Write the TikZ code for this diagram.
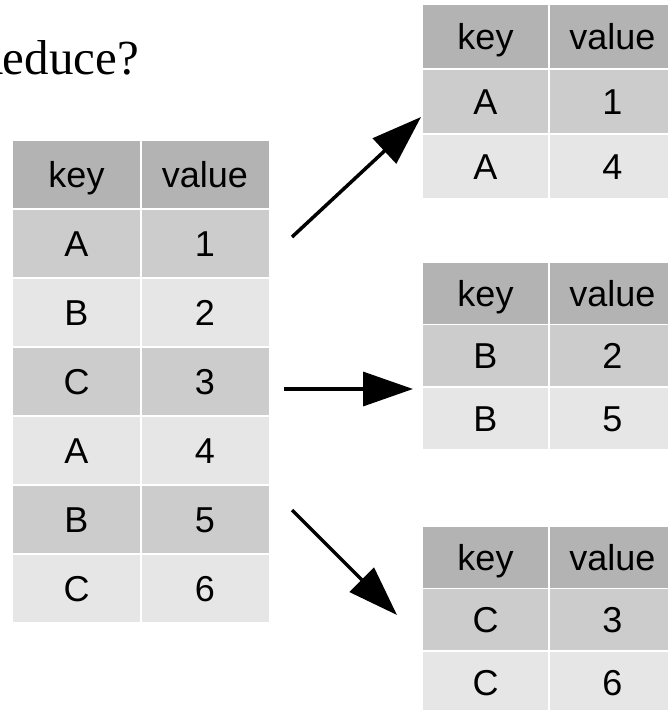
\documentclass[tikz,border=0pt]{standalone}
\usepackage{fontspec}
\setmainfont{Liberation Serif}
\newfontfamily\cellfont{Liberation Sans}
\usetikzlibrary{arrows.meta}
\definecolor{hdr}{HTML}{B3B3B3}
\definecolor{rowdark}{HTML}{CCCCCC}
\definecolor{rowlight}{HTML}{E6E6E6}
\tikzset{
  cellbase/.style={draw=white, line width=1.5pt, inner sep=0pt, anchor=center,
    font=\cellfont\fontsize{36}{40}\selectfont, text height=26pt, text depth=0pt},
  hcell/.style={cellbase, fill=hdr},
  dcell/.style={cellbase, fill=rowdark},
  lcell/.style={cellbase, fill=rowlight},
  bigcell/.style={minimum width=128.5pt, minimum height=69pt},
  smallcell/.style={minimum width=127pt, minimum height=65pt},
  midcell/.style={minimum width=127pt, minimum height=62.5pt},
  bigarrow/.style={line width=3.5pt, -{Triangle[length=50pt,width=34pt]}},
}
\begin{document}
\begin{tikzpicture}[x=1pt,y=-1pt]
\useasboundingbox (0,0) rectangle (668,710);
\clip (0,0) rectangle (668,710);

\node[anchor=base east, inner sep=0pt, font=\fontsize{49}{54}\selectfont] (title) at (139,74) {Reduce?};

% left table
\node[hcell,bigcell] (lk0) at (76.5,174.5) {key};
\node[hcell,bigcell] (lv0) at (205,174.5) {value};
\node[dcell,bigcell] (lk1) at (76.5,243.5) {A};
\node[dcell,bigcell] (lv1) at (205,243.5) {1};
\node[lcell,bigcell] (lk2) at (76.5,312.5) {B};
\node[lcell,bigcell] (lv2) at (205,312.5) {2};
\node[dcell,bigcell] (lk3) at (76.5,381.5) {C};
\node[dcell,bigcell] (lv3) at (205,381.5) {3};
\node[lcell,bigcell] (lk4) at (76.5,450.5) {A};
\node[lcell,bigcell] (lv4) at (205,450.5) {4};
\node[dcell,bigcell] (lk5) at (76.5,519.5) {B};
\node[dcell,bigcell] (lv5) at (205,519.5) {5};
\node[lcell,bigcell] (lk6) at (76.5,588.5) {C};
\node[lcell,bigcell] (lv6) at (205,588.5) {6};

% top right table
\node[hcell,smallcell] (ak0) at (485.5,36.5) {key};
\node[hcell,smallcell] (av0) at (612.5,36.5) {value};
\node[dcell,smallcell] (ak1) at (485.5,101.5) {A};
\node[dcell,smallcell] (av1) at (612.5,101.5) {1};
\node[lcell,smallcell] (ak2) at (485.5,166.5) {A};
\node[lcell,smallcell] (av2) at (612.5,166.5) {4};

% middle right table
\node[hcell,midcell] (bk0) at (485.5,293) {key};
\node[hcell,midcell] (bv0) at (612.5,293) {value};
\node[dcell,midcell] (bk1) at (485.5,355.5) {B};
\node[dcell,midcell] (bv1) at (612.5,355.5) {2};
\node[lcell,midcell] (bk2) at (485.5,418) {B};
\node[lcell,midcell] (bv2) at (612.5,418) {5};

% bottom right table
\node[hcell,midcell] (ck0) at (485.5,557) {key};
\node[hcell,midcell] (cv0) at (612.5,557) {value};
\node[dcell,midcell] (ck1) at (485.5,619.5) {C};
\node[dcell,midcell] (cv1) at (612.5,619.5) {3};
\node[lcell,midcell] (ck2) at (485.5,682) {C};
\node[lcell,midcell] (cv2) at (612.5,682) {6};

% arrows
\coordinate (t1) at (292,237);
\coordinate (h1) at (421,117);
\coordinate (t2) at (284,389);
\coordinate (h2) at (413,389);
\coordinate (t3) at (292,510);
\coordinate (h3) at (397,615);
\draw[bigarrow] (t1) -- (h1);
\draw[bigarrow] (t2) -- (h2);
\draw[bigarrow] (t3) -- (h3);
\end{tikzpicture}
\end{document}
